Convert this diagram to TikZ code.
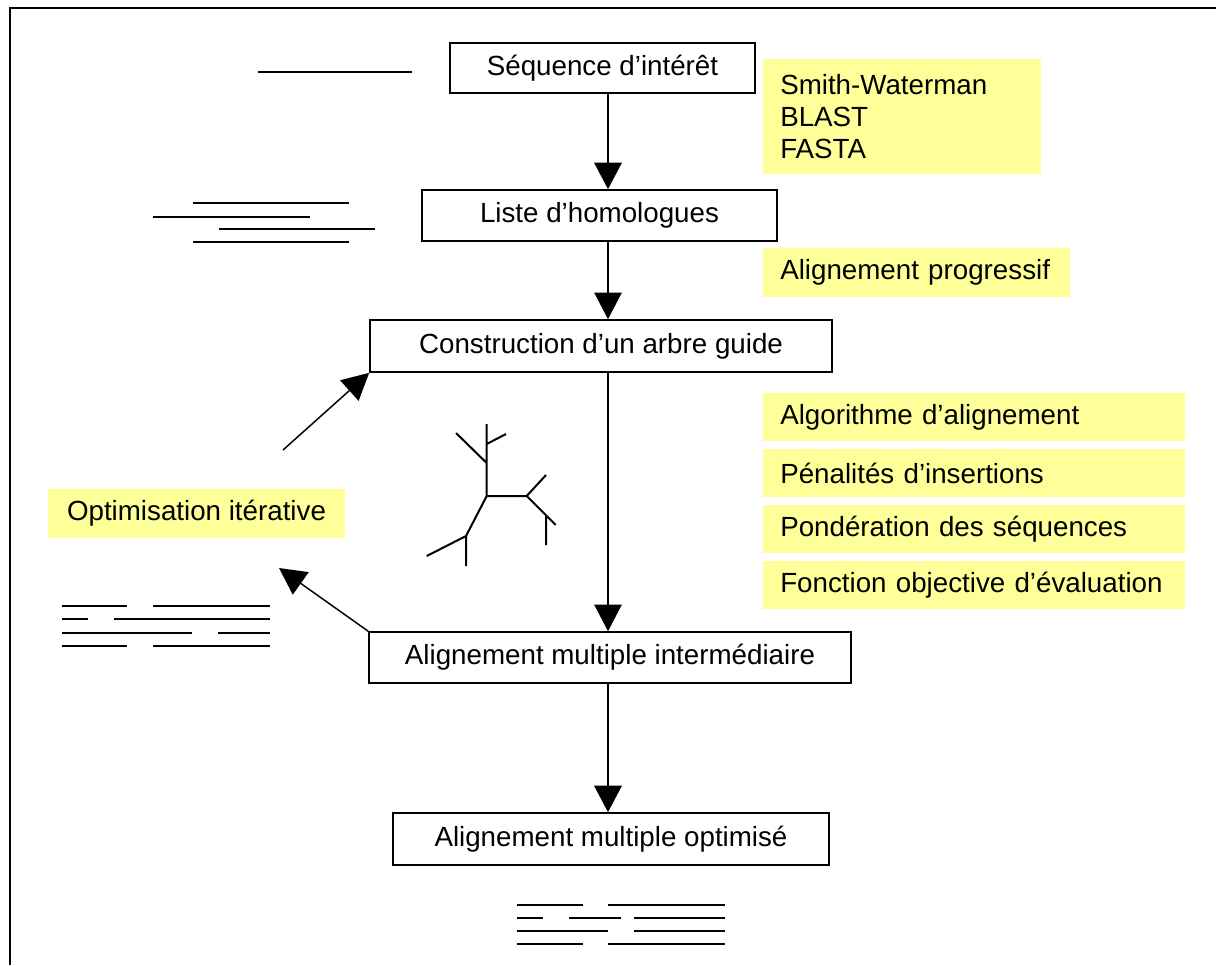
\documentclass[tikz,border=0pt]{standalone}
\usepackage{fontspec}
\setmainfont{Liberation Sans}
\usetikzlibrary{arrows.meta}
\definecolor{jaune}{RGB}{255,255,153}

\begin{document}
\begin{tikzpicture}[x=0.75pt,y=-0.75pt,font=\fontsize{20.8}{24}\selectfont,
    etape/.style={draw,line width=1.2pt,inner sep=0pt},
    note/.style={fill=jaune,inner xsep=12.75pt,inner ysep=0pt,align=left,anchor=north west},
    fleche/.style={line width=1.5pt,-{Triangle[length=20pt,width=20.5pt]}},
    trait/.style={line width=1.5pt}]
    \useasboundingbox (0,0) rectangle (1216,965);
    \draw[line width=1.5pt] (10,965) -- (10,8) -- (1216,8);
    \node at (602.5,68) [etape,minimum width=228.75pt,minimum height=37.5pt] (seq) {Séquence d’intérêt};
    \node at (599.5,215.5) [etape,minimum width=266.25pt,minimum height=38.25pt] (liste) {Liste d’homologues};
    \node at (601,346) [etape,minimum width=346.5pt,minimum height=39pt] (arbre) {Construction d’un arbre guide};
    \node at (610,657.5) [etape,minimum width=361.5pt,minimum height=38.25pt] (inter) {Alignement multiple intermédiaire};
    \node at (611,839) [etape,minimum width=327pt,minimum height=39pt] (optim) {Alignement multiple optimisé};
    \node at (763,59) [note,text width=183pt,minimum height=86.25pt] (recherche) {Smith-Waterman\\BLAST\\FASTA};
    \node at (763,248) [note,text width=204.75pt,minimum height=36.75pt] (progressif) {Alignement progressif};
    \node at (763,393) [note,text width=291pt,minimum height=36pt] (algo) {Algorithme d’alignement};
    \node at (763,449) [note,text width=291pt,minimum height=36pt] (penal) {Pénalités d’insertions};
    \node at (763,505) [note,text width=291pt,minimum height=36pt] (ponder) {Pondération des séquences};
    \node at (763,561) [note,text width=291pt,minimum height=36pt] (fonction) {Fonction objective d’évaluation};
    \node at (196.5,513.5) [fill=jaune,inner sep=0pt,minimum width=222.75pt,minimum height=36.75pt] (iter) {Optimisation itérative};
    \coordinate (axe) at (608,0);
    \coordinate (boucle1) at (283,450);
    \coordinate (boucle2) at (279,568);
    \draw[fleche,line width=2.2pt] (seq.south -| axe) -- (liste.north -| axe);
    \draw[fleche] (liste.south -| axe) -- (arbre.north -| axe);
    \draw[fleche] (arbre.south -| axe) -- (inter.north -| axe);
    \draw[fleche,line width=2.2pt] (inter.south -| axe) -- (optim.north -| axe);
    \draw[fleche,line width=1.1pt] (boucle1) -- (arbre.south west);
    \draw[fleche,line width=1.1pt] (inter.north west) -- (boucle2);
    \draw[trait] (486.7,424) -- (486.7,496) -- (526.7,496) -- (546,475) (456,433) -- (486.7,463) (486.7,444) -- (506,434)
        (526.7,496) -- (555.7,525) (546,515) -- (546,545) (486.7,496) -- (466,536) -- (426.7,556) (466,536) -- (466,566);
    \draw[trait] (258,72) -- (412,72);
    \draw[trait] (193,203) -- (349,203) (153,217) -- (310,217) (219,229) -- (375,229) (193,242) -- (349,242);
    \draw[trait] (62,606) -- (127,606) (153,606) -- (270,606) (62,619) -- (88,619) (114,619) -- (270,619)
        (62,633) -- (192,633) (218,633) -- (270,633) (62,646) -- (127,646) (153,646) -- (270,646);
    \draw[trait] (517,905) -- (583,905) (608,905) -- (725,905) (517,918) -- (543,918) (569,918) -- (621,918) (634,918) -- (725,918)
        (517,931) -- (608,931) (634,931) -- (725,931) (517,944) -- (583,944) (608,944) -- (725,944);
\end{tikzpicture}
\end{document}
